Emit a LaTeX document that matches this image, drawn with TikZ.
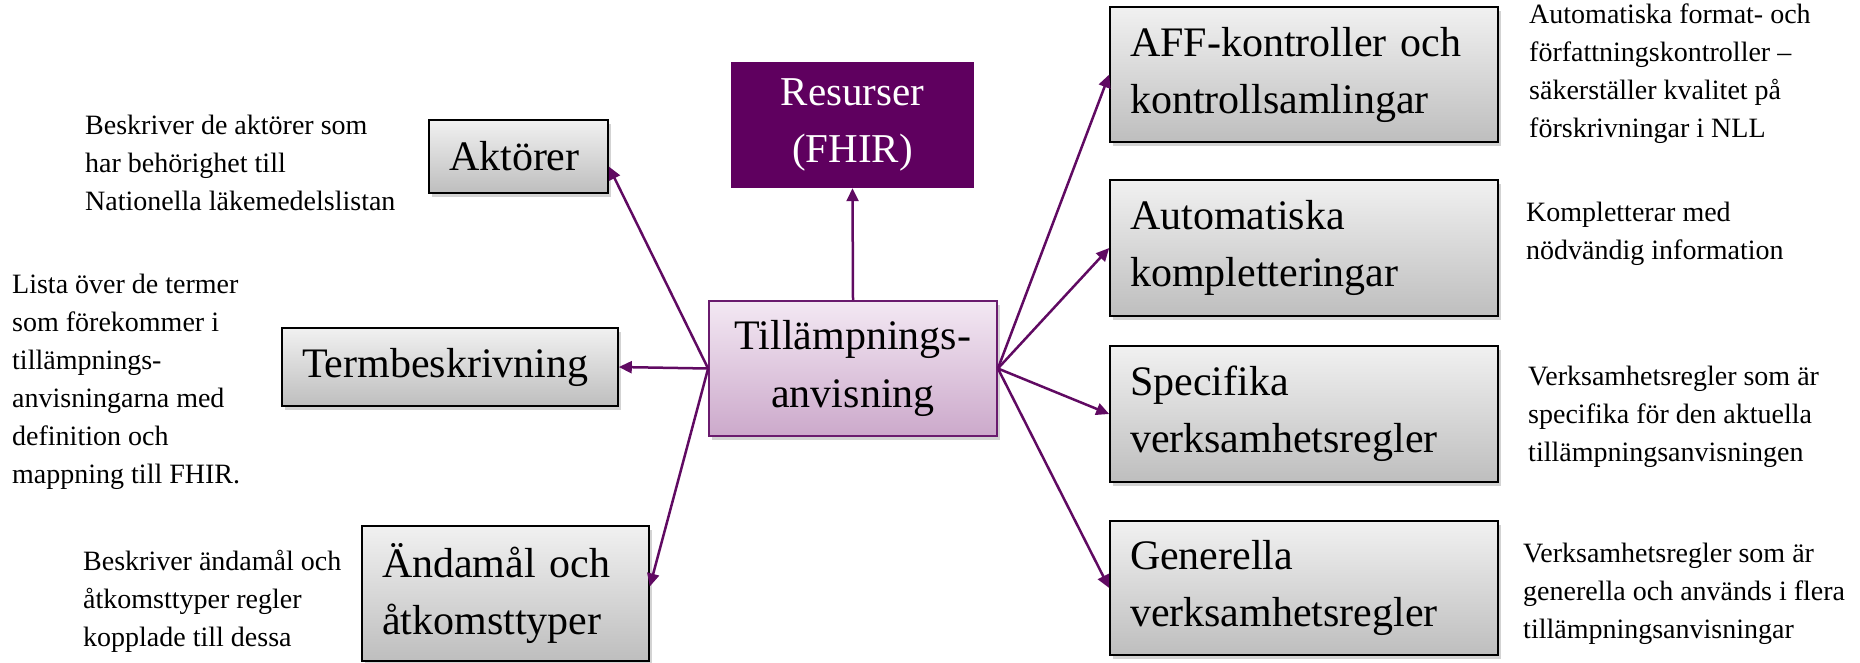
\documentclass[tikz,border=0pt]{standalone}
\usepackage{fontspec}
\setmainfont{Liberation Serif}
\usetikzlibrary{arrows.meta,shadows}
\definecolor{arrowc}{RGB}{96,10,98}
\definecolor{ctrborder}{RGB}{106,27,110}
\definecolor{ctrtop}{RGB}{243,232,243}
\definecolor{ctrbot}{RGB}{204,169,203}
\definecolor{resfill}{RGB}{95,0,95}
\definecolor{grtop}{RGB}{241,241,241}
\definecolor{grbot}{RGB}{190,190,190}
\begin{document}
\begin{tikzpicture}[x=1pt,y=1pt,
  graybox/.style={draw=black, line width=1.6pt, top color=grtop, bottom color=grbot,
    drop shadow={shadow xshift=3pt,shadow yshift=-4pt,opacity=0.35},
    font=\fontsize{42}{57}\selectfont, align=left, inner xsep=20pt, inner ysep=0pt},
  desc/.style={anchor=west, align=left, font=\fontsize{28}{38}\selectfont, inner sep=0pt},
  conn/.style={draw=arrowc, line width=2.5pt, -{Triangle[length=13pt,width=12pt]}}]
\useasboundingbox (0,0) rectangle (1860,-662);

% center
\node[draw=ctrborder, line width=1.8pt, top color=ctrtop, bottom color=ctrbot,
  drop shadow={shadow xshift=3pt,shadow yshift=-4pt,opacity=0.35},
  minimum width=288pt, minimum height=135pt, align=center,
  font=\fontsize{42}{58}\selectfont] (tl) at (853,-368.5) {Tillämpnings-\\anvisning};

% resurser
\node[fill=resfill, minimum width=243pt, minimum height=126pt, align=center,
  text=white, font=\fontsize{41}{57}\selectfont] (res) at (852.5,-125) {Resurser\\(FHIR)};

% left boxes
\node[graybox, minimum width=179pt, text width=139pt, minimum height=73pt] (akt) at (518.5,-156.5) {Aktörer};
\node[graybox, minimum width=336pt, text width=296pt, minimum height=78pt] (term) at (450,-367) {Termbeskrivning};
\node[graybox, minimum width=287pt, text width=247pt, minimum height=135pt] (and) at (505.5,-593.5) {Ändamål och\\åtkomsttyper};

% right boxes
\node[graybox, minimum width=388pt, text width=348pt, minimum height=135pt] (aff) at (1304,-74.5) {AFF-kontroller och\\kontrollsamlingar};
\node[graybox, minimum width=388pt, text width=348pt, minimum height=136pt] (auto) at (1304,-248) {Automatiska\\kompletteringar};
\node[graybox, minimum width=388pt, text width=348pt, minimum height=136pt] (spec) at (1304,-414) {Specifika\\verksamhetsregler};
\node[graybox, minimum width=388pt, text width=348pt, minimum height=134pt] (gen) at (1304,-588) {Generella\\verksamhetsregler};

% descriptions
\node[desc] (d1) at (85,-163) {Beskriver de aktörer som\\har behörighet till\\Nationella läkemedelslistan};
\node[desc] (d2) at (12,-382) {Lista över de termer\\som förekommer i\\tillämpnings-\\anvisningarna med\\definition och\\mappning till FHIR.};
\node[desc] (d3) at (83,-601) {Beskriver ändamål och\\åtkomsttyper regler\\kopplade till dessa};
\node[desc] (d4) at (1529,-74) {Automatiska format- och\\författningskontroller –\\säkerställer kvalitet på\\förskrivningar i NLL};
\node[desc] (d5) at (1526,-234) {Kompletterar med\\nödvändig information};
\node[desc] (d6) at (1528,-417) {Verksamhetsregler som är\\specifika för den aktuella\\tillämpningsanvisningen};
\node[desc] (d7) at (1523,-594) {Verksamhetsregler som är\\generella och används i flera\\tillämpningsanvisningar};

% connectors
\draw[conn] (tl.north) -- (res.south);
\draw[conn] (tl.west) -- ([yshift=-10pt]akt.east);
\draw[conn] (tl.west) -- (term.east);
\draw[conn] (tl.west) -- ([yshift=7pt]and.east);
\draw[conn] (tl.east) -- (aff.west);
\draw[conn] (tl.east) -- (auto.west);
\draw[conn] (tl.east) -- (spec.west);
\draw[conn] (tl.east) -- (gen.west);
\end{tikzpicture}
\end{document}
